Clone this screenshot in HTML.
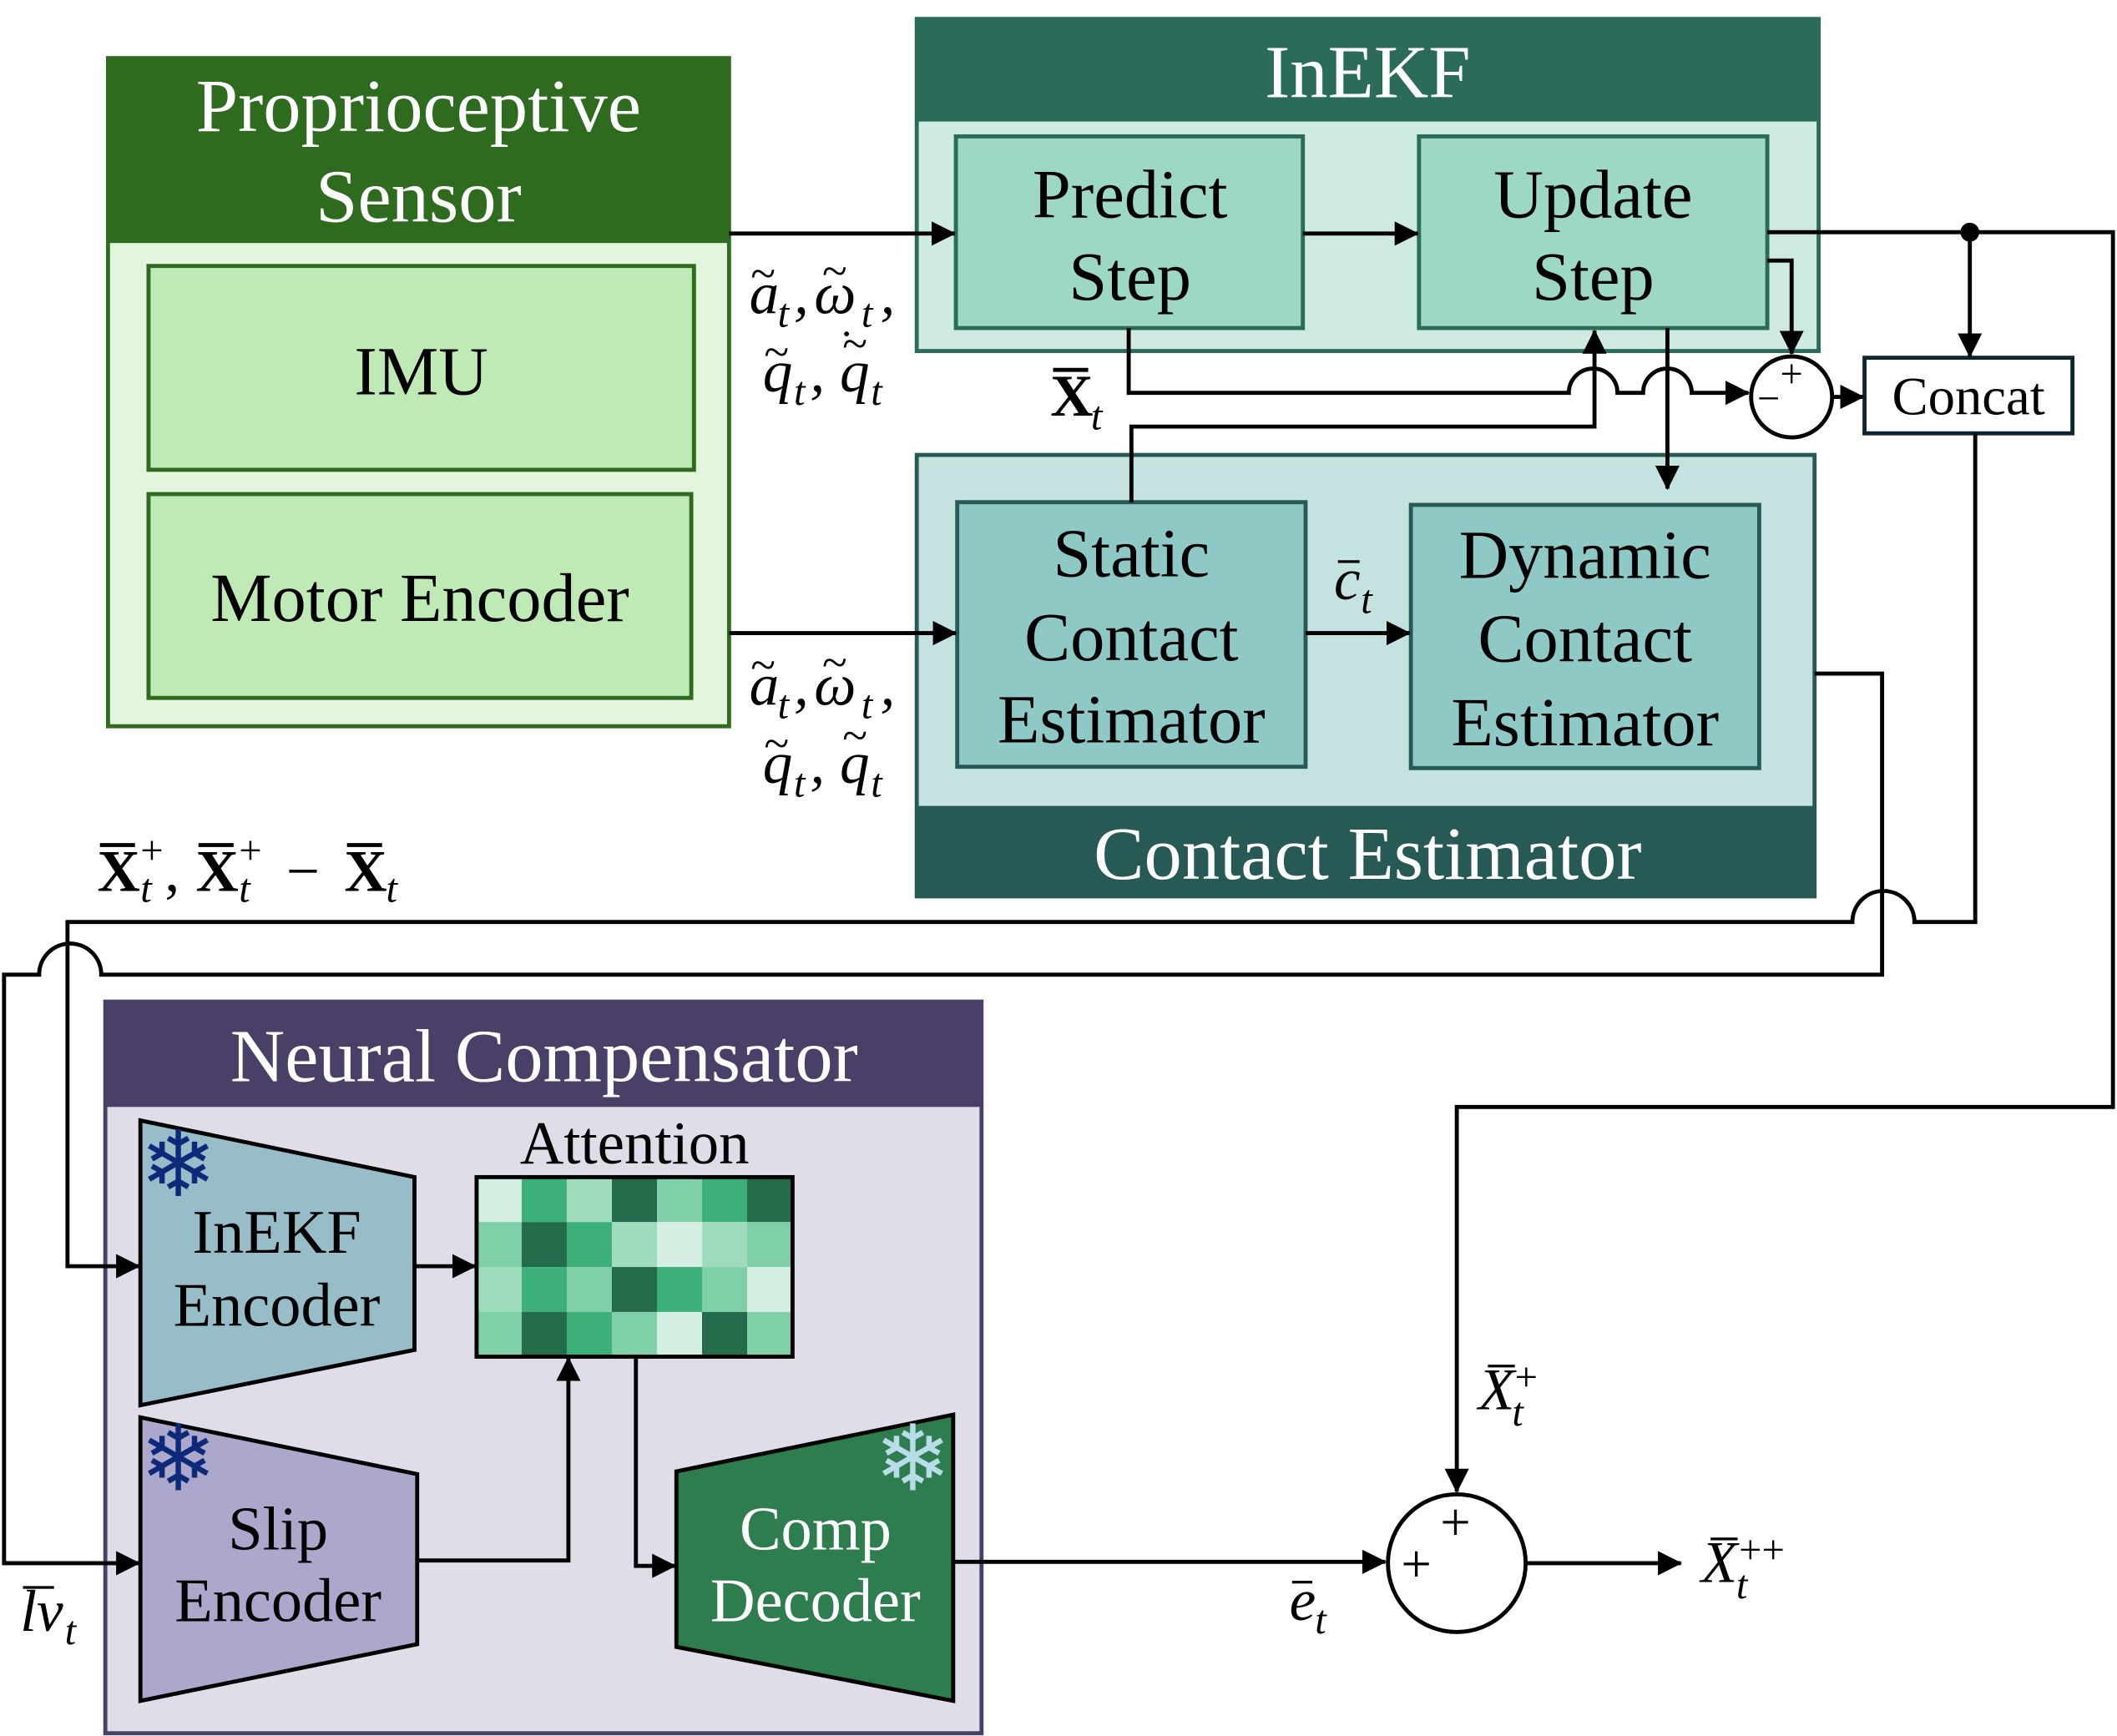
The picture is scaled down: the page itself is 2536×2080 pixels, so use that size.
<!DOCTYPE html>
<html><head><meta charset="utf-8"><style>html,body{margin:0;padding:0;background:#fff}svg{display:block}svg text{font-family:"Liberation Serif",serif}</style></head>
<body>
<svg width="2536" height="2080" viewBox="0 0 1568 1286" xmlns="http://www.w3.org/2000/svg">
<defs>
<marker id="b" markerWidth="18" markerHeight="18" refX="17" refY="9" orient="auto" markerUnits="userSpaceOnUse" viewBox="0 0 18 18"><path d="M0,0 L18,9 L0,18 z" fill="#000"/></marker>
</defs>
<!-- Proprioceptive -->
<rect x="80" y="43" width="460" height="495" fill="#e3f5dc" stroke="#2e6b1f" stroke-width="3"/>
<rect x="80" y="43" width="460" height="137" fill="#2e6b1f"/>
<text x="310" y="97" font-size="56" fill="#fff" text-anchor="middle">Proprioceptive</text>
<text x="310" y="164" font-size="56" fill="#fff" text-anchor="middle">Sensor</text>
<rect x="110" y="197" width="404" height="151" fill="#c0eab5" stroke="#2e6b1f" stroke-width="3"/>
<text x="312" y="292" font-size="51" text-anchor="middle">IMU</text>
<rect x="110" y="366" width="402" height="151" fill="#c0eab5" stroke="#2e6b1f" stroke-width="3"/>
<text x="311" y="460" font-size="51" text-anchor="middle">Motor Encoder</text>
<!-- InEKF -->
<rect x="679" y="14" width="668" height="246" fill="#cfeae2" stroke="#2a6b5a" stroke-width="3"/>
<rect x="679" y="14" width="668" height="76" fill="#2a6b5a"/>
<text x="1013" y="72" font-size="56" fill="#fff" text-anchor="middle">InEKF</text>
<rect x="708" y="101" width="257" height="142" fill="#9dd8c5" stroke="#2a6b5a" stroke-width="3"/>
<text x="837" y="161" font-size="51" text-anchor="middle">Predict</text>
<text x="837" y="222" font-size="51" text-anchor="middle">Step</text>
<rect x="1051" y="101" width="258" height="142" fill="#9dd8c5" stroke="#2a6b5a" stroke-width="3"/>
<text x="1180" y="161" font-size="51" text-anchor="middle">Update</text>
<text x="1180" y="222" font-size="51" text-anchor="middle">Step</text>
<!-- Contact -->
<rect x="679" y="337" width="665" height="327" fill="#c3e2e0" stroke="#285a55" stroke-width="3"/>
<rect x="679" y="597" width="665" height="67" fill="#285a55"/>
<text x="1013" y="651" font-size="56" fill="#fff" text-anchor="middle">Contact Estimator</text>
<rect x="709" y="372" width="258" height="196" fill="#8fc9c6" stroke="#285a55" stroke-width="3"/>
<text x="838" y="427" font-size="51" text-anchor="middle">Static</text>
<text x="838" y="489" font-size="51" text-anchor="middle">Contact</text>
<text x="838" y="550" font-size="51" text-anchor="middle">Estimator</text>
<rect x="1045" y="374" width="258" height="195" fill="#8fc9c6" stroke="#285a55" stroke-width="3"/>
<text x="1174" y="428" font-size="51" text-anchor="middle">Dynamic</text>
<text x="1174" y="490" font-size="51" text-anchor="middle">Contact</text>
<text x="1174" y="552" font-size="51" text-anchor="middle">Estimator</text>
<!-- Concat, minus circle -->
<rect x="1381" y="265" width="154" height="56" fill="#fff" stroke="#0d2530" stroke-width="3"/>
<text x="1458" y="307" font-size="40" text-anchor="middle">Concat</text>
<circle cx="1327" cy="294" r="30" fill="#fff" stroke="#000" stroke-width="3"/>
<text x="1327" y="287" font-size="30" text-anchor="middle">+</text>
<text x="1310" y="305" font-size="30" text-anchor="middle">−</text>
<!-- Neural Compensator -->
<rect x="78" y="742" width="649" height="542" fill="#e0dde9" stroke="#4a3f66" stroke-width="3"/>
<rect x="78" y="742" width="649" height="78" fill="#4a3f66"/>
<text x="403" y="801" font-size="56" fill="#fff" text-anchor="middle">Neural Compensator</text>
<polygon points="104,830 307,872 307,1000 104,1041" fill="#96bdc8" stroke="#000" stroke-width="3"/>
<text x="205" y="928" font-size="46" text-anchor="middle">InEKF</text>
<text x="205" y="982" font-size="46" text-anchor="middle">Encoder</text>
<polygon points="104,1050 309,1092 309,1218 104,1260" fill="#aca8cb" stroke="#000" stroke-width="3"/>
<text x="206" y="1148" font-size="46" text-anchor="middle">Slip</text>
<text x="206" y="1201" font-size="46" text-anchor="middle">Encoder</text>
<polygon points="501,1090 706,1048 706,1260 501,1220" fill="#2e7d4f" stroke="#000" stroke-width="3"/>
<text x="604" y="1148" font-size="46" fill="#fff" text-anchor="middle">Comp</text>
<text x="604" y="1201" font-size="46" fill="#fff" text-anchor="middle">Decoder</text>
<text x="132" y="886" font-size="68" fill="#0d2a7a" text-anchor="middle" style="font-family:'DejaVu Sans',sans-serif">❄</text>
<text x="132" y="1104" font-size="68" fill="#0d2a7a" text-anchor="middle" style="font-family:'DejaVu Sans',sans-serif">❄</text>
<text x="676" y="1104" font-size="68" fill="#b8dde8" text-anchor="middle" style="font-family:'DejaVu Sans',sans-serif">❄</text>
<text x="470" y="862" font-size="45" text-anchor="middle">Attention</text>
<g stroke="none">
<rect x="353" y="872" width="33.4" height="33.3" fill="#d4efe2"/><rect x="386.4" y="872" width="33.4" height="33.3" fill="#3db07a"/><rect x="419.8" y="872" width="33.4" height="33.3" fill="#9fdcbd"/><rect x="453.2" y="872" width="33.4" height="33.3" fill="#236b4a"/><rect x="486.6" y="872" width="33.4" height="33.3" fill="#7fcfa8"/><rect x="520" y="872" width="33.4" height="33.3" fill="#3db07a"/><rect x="553.4" y="872" width="33.6" height="33.3" fill="#236b4a"/>
<rect x="353" y="905.3" width="33.4" height="33.3" fill="#7fcfa8"/><rect x="386.4" y="905.3" width="33.4" height="33.3" fill="#236b4a"/><rect x="419.8" y="905.3" width="33.4" height="33.3" fill="#3db07a"/><rect x="453.2" y="905.3" width="33.4" height="33.3" fill="#9fdcbd"/><rect x="486.6" y="905.3" width="33.4" height="33.3" fill="#d4efe2"/><rect x="520" y="905.3" width="33.4" height="33.3" fill="#9fdcbd"/><rect x="553.4" y="905.3" width="33.6" height="33.3" fill="#7fcfa8"/>
<rect x="353" y="938.6" width="33.4" height="33.3" fill="#9fdcbd"/><rect x="386.4" y="938.6" width="33.4" height="33.3" fill="#3db07a"/><rect x="419.8" y="938.6" width="33.4" height="33.3" fill="#7fcfa8"/><rect x="453.2" y="938.6" width="33.4" height="33.3" fill="#236b4a"/><rect x="486.6" y="938.6" width="33.4" height="33.3" fill="#3db07a"/><rect x="520" y="938.6" width="33.4" height="33.3" fill="#7fcfa8"/><rect x="553.4" y="938.6" width="33.6" height="33.3" fill="#d4efe2"/>
<rect x="353" y="971.9" width="33.4" height="33.1" fill="#7fcfa8"/><rect x="386.4" y="971.9" width="33.4" height="33.1" fill="#236b4a"/><rect x="419.8" y="971.9" width="33.4" height="33.1" fill="#3db07a"/><rect x="453.2" y="971.9" width="33.4" height="33.1" fill="#7fcfa8"/><rect x="486.6" y="971.9" width="33.4" height="33.1" fill="#d4efe2"/><rect x="520" y="971.9" width="33.4" height="33.1" fill="#236b4a"/><rect x="553.4" y="971.9" width="33.6" height="33.1" fill="#7fcfa8"/>
</g>
<rect x="353" y="872" width="234" height="133" fill="none" stroke="#000" stroke-width="3"/>
<circle cx="1079" cy="1158" r="51" fill="#fff" stroke="#000" stroke-width="3"/>
<text x="1078" y="1141" font-size="40" text-anchor="middle">+</text>
<text x="1049" y="1172" font-size="40" text-anchor="middle">+</text>
<!-- connectors -->
<g fill="none" stroke="#000" stroke-width="3">
<path d="M540,173 H707" marker-end="url(#b)"/>
<path d="M965,173 H1050" marker-end="url(#b)"/>
<path d="M1309,172 H1565 V820 H1079 V1105" marker-end="url(#b)"/>
<path d="M1459,172 V264" marker-end="url(#b)"/>
<path d="M1309,193 H1327 V262" marker-end="url(#b)"/>
<path d="M836,243 V291 H1162 A18,18 0 0 1 1198,291 H1217 A18,18 0 0 1 1253,291 H1295" marker-end="url(#b)"/>
<path d="M838,372 V316 H1181 V245" marker-end="url(#b)"/>
<path d="M1235,243 V362" marker-end="url(#b)"/>
<path d="M1357,294 H1380" marker-end="url(#b)"/>
<path d="M540,469 H708" marker-end="url(#b)"/>
<path d="M967,469 H1044" marker-end="url(#b)"/>
<path d="M1463,321 V683 H1418 A23,23 0 0 0 1372,683 H50 V938 H103" marker-end="url(#b)"/>
<path d="M1344,499 H1394 V722 H75 A23,23 0 0 0 29,722 H3 V1158 H103" marker-end="url(#b)"/>
<path d="M307,938 H352" marker-end="url(#b)"/>
<path d="M309,1156 H421 V1006" marker-end="url(#b)"/>
<path d="M471,1005 V1160 H500" marker-end="url(#b)"/>
<path d="M706,1157 H1026" marker-end="url(#b)"/>
<path d="M1130,1158 H1245" marker-end="url(#b)"/>
</g>
<circle cx="1459" cy="172" r="7" fill="#000"/>
<!-- math labels -->
<g font-style="italic" font-size="44">
<g id="lbl">
<text x="555" y="232">a</text><text x="556" y="214" font-size="34" font-style="normal">~</text><text x="576" y="242" font-size="30">t</text><text x="588" y="232">,</text>
<text x="603" y="232">ω</text><text x="609" y="212" font-size="34" font-style="normal">~</text><text x="638" y="242" font-size="30">t</text><text x="652" y="232">,</text>
<text x="565" y="290">q</text><text x="566" y="272" font-size="34" font-style="normal">~</text><text x="588" y="300" font-size="30">t</text><text x="600" y="290">,</text>
<text x="622" y="290">q</text><text x="627" y="268" font-size="34" font-style="normal">̇</text><text x="624" y="266" font-size="34" font-style="normal">~</text><text x="645" y="300" font-size="30">t</text>
</g>
<g transform="translate(0,290)">
<text x="555" y="232">a</text><text x="556" y="214" font-size="34" font-style="normal">~</text><text x="576" y="242" font-size="30">t</text><text x="588" y="232">,</text>
<text x="603" y="232">ω</text><text x="609" y="212" font-size="34" font-style="normal">~</text><text x="638" y="242" font-size="30">t</text><text x="652" y="232">,</text>
<text x="565" y="290">q</text><text x="566" y="272" font-size="34" font-style="normal">~</text><text x="588" y="300" font-size="30">t</text><text x="600" y="290">,</text>
<text x="622" y="290">q</text><text x="624" y="266" font-size="34" font-style="normal">~</text><text x="645" y="300" font-size="30">t</text>
</g>
<!-- X bar t -->
<text x="778" y="308" font-style="normal" font-weight="bold">X</text><line x1="780" y1="274" x2="806" y2="274" stroke="#000" stroke-width="3"/><text x="808" y="318" font-size="30">t</text>
<!-- c bar t -->
<text x="988" y="444">c</text><line x1="991" y1="416" x2="1007" y2="416" stroke="#000" stroke-width="2"/><text x="1008" y="454" font-size="30">t</text>
<!-- bottom-left -->
<text x="72" y="660" font-style="normal" font-weight="bold">X</text><line x1="74" y1="626" x2="100" y2="626" stroke="#000" stroke-width="3"/>
<text x="104" y="640" font-size="30" font-style="normal">+</text><text x="104" y="668" font-size="30">t</text><text x="122" y="660" font-style="normal">,</text>
<text x="145" y="660" font-style="normal" font-weight="bold">X</text><line x1="147" y1="626" x2="173" y2="626" stroke="#000" stroke-width="3"/>
<text x="177" y="640" font-size="30" font-style="normal">+</text><text x="177" y="668" font-size="30">t</text>
<text x="212" y="660" font-style="normal">−</text>
<text x="255" y="660" font-style="normal" font-weight="bold">X</text><line x1="257" y1="626" x2="283" y2="626" stroke="#000" stroke-width="3"/><text x="286" y="668" font-size="30">t</text>
<!-- lv_t -->
<text x="15" y="1208">lv</text><line x1="17" y1="1176" x2="40" y2="1176" stroke="#000" stroke-width="2"/><text x="48" y="1218" font-size="30">t</text>
<!-- e_t -->
<text x="955" y="1200">e</text><line x1="957" y1="1172" x2="972" y2="1172" stroke="#000" stroke-width="2"/><text x="974" y="1210" font-size="30">t</text>
<!-- X_t^+ -->
<text x="1095" y="1044">X</text><line x1="1102" y1="1012" x2="1122" y2="1012" stroke="#000" stroke-width="2"/><text x="1122" y="1030" font-size="30" font-style="normal">+</text><text x="1120" y="1056" font-size="30">t</text>
<!-- X_t^++ -->
<text x="1260" y="1172">X</text><line x1="1267" y1="1140" x2="1287" y2="1140" stroke="#000" stroke-width="2"/><text x="1288" y="1158" font-size="30" font-style="normal">++</text><text x="1286" y="1184" font-size="30">t</text>
</g>
</svg>
</body></html>
